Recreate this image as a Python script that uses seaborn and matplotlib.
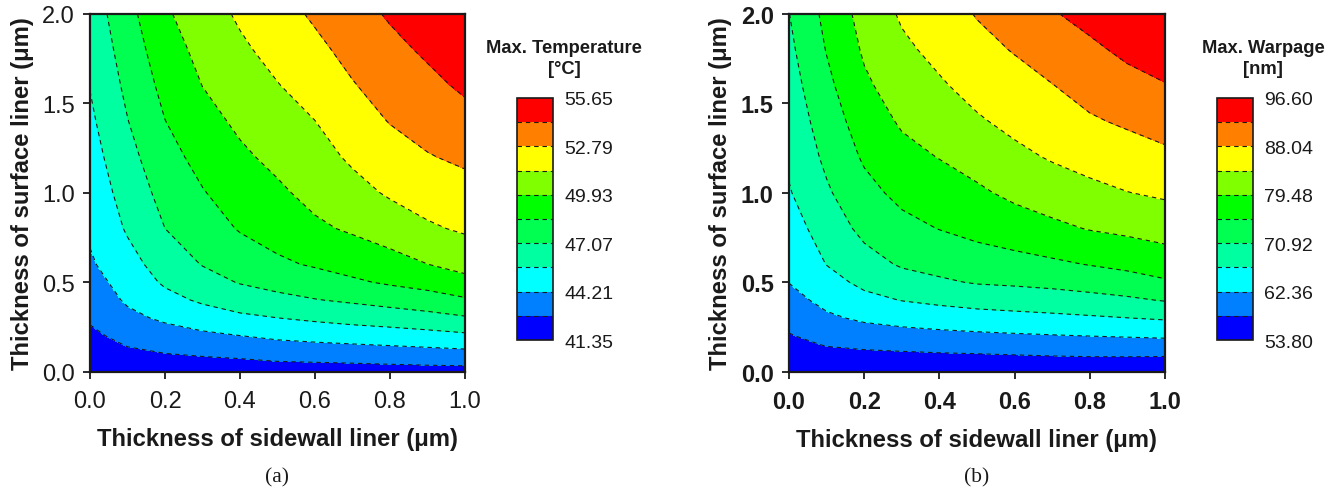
import numpy as np
import matplotlib
matplotlib.use('Agg')
import matplotlib.pyplot as plt
import seaborn as sns
from matplotlib.colors import ListedColormap, BoundaryNorm

# grid of the two design parameters (µm)
sidewall = [0.0, 0.1, 0.2, 0.3, 0.4, 0.5, 0.6, 0.7, 0.8, 0.9, 1.0]
surface = [0.0, 0.05, 0.1, 0.15, 0.2, 0.3, 0.4, 0.5, 0.6, 0.8, 1.0, 1.2, 1.4, 1.6, 1.8, 2.0]

# Max. temperature [°C], one row per sidewall thickness, along surface thickness
max_temp = [
    [41.35, 41.64, 41.92, 42.21, 42.49, 42.96, 43.31, 43.66, 44.02, 44.44, 44.75, 45.07, 45.38, 45.69, 45.97, 46.25],
    [41.90, 42.21, 42.53, 42.85, 43.19, 43.87, 44.40, 44.78, 45.16, 45.79, 46.21, 46.62, 47.03, 47.38, 47.72, 48.06],
    [42.00, 42.38, 42.76, 43.18, 43.61, 44.44, 45.21, 45.83, 46.24, 47.07, 47.54, 48.01, 48.48, 48.90, 49.31, 49.73],
    [42.05, 42.47, 42.91, 43.42, 43.93, 44.94, 45.84, 46.53, 47.13, 47.78, 48.42, 48.94, 49.45, 49.95, 50.33, 50.72],
    [42.10, 42.55, 43.05, 43.62, 44.19, 45.37, 46.32, 47.15, 47.67, 48.61, 49.15, 49.69, 50.19, 50.66, 51.13, 51.56],
    [42.15, 42.69, 43.28, 43.88, 44.47, 45.63, 46.69, 47.54, 48.28, 49.05, 49.70, 50.27, 50.79, 51.31, 51.80, 52.28],
    [42.20, 42.75, 43.38, 44.02, 44.65, 45.89, 47.01, 47.88, 48.64, 49.69, 50.33, 50.84, 51.35, 51.92, 52.48, 52.99],
    [42.22, 42.81, 43.47, 44.14, 44.83, 46.13, 47.27, 48.30, 49.00, 50.12, 50.90, 51.58, 52.15, 52.71, 53.20, 53.69],
    [42.25, 42.89, 43.58, 44.27, 44.98, 46.33, 47.58, 48.68, 49.42, 50.59, 51.53, 52.20, 52.85, 53.35, 53.85, 54.38],
    [42.28, 42.97, 43.68, 44.41, 45.16, 46.58, 47.90, 49.00, 49.92, 51.17, 51.98, 52.71, 53.30, 53.87, 54.44, 55.01],
    [42.30, 43.03, 43.79, 44.58, 45.37, 46.92, 48.32, 49.53, 50.37, 51.55, 52.30, 53.04, 53.77, 54.45, 55.05, 55.65],
]

# Max. warpage [nm]
max_warp = [
    [53.80, 54.80, 55.81, 56.81, 57.82, 59.42, 60.97, 62.44, 63.22, 64.77, 66.33, 67.35, 68.24, 69.12, 70.01, 70.85],
    [54.30, 55.65, 57.00, 58.31, 59.43, 61.68, 63.51, 65.16, 66.73, 68.55, 70.37, 71.78, 73.00, 74.22, 75.39, 76.32],
    [54.50, 55.96, 57.41, 58.86, 60.29, 63.05, 65.53, 67.60, 69.35, 71.99, 73.94, 75.74, 77.26, 78.79, 80.02, 81.01],
    [54.60, 56.13, 57.65, 59.22, 60.81, 63.86, 66.76, 69.24, 71.35, 74.00, 76.27, 78.22, 80.00, 81.49, 82.98, 84.28],
    [54.70, 56.29, 57.89, 59.55, 61.22, 64.47, 67.54, 70.36, 72.19, 75.31, 77.48, 79.62, 81.46, 83.30, 84.84, 86.29],
    [54.80, 56.44, 58.07, 59.82, 61.56, 64.98, 68.25, 71.22, 73.21, 76.41, 78.82, 81.09, 83.31, 85.12, 86.81, 88.28],
    [54.85, 56.57, 58.29, 60.08, 61.86, 65.38, 68.65, 71.55, 73.80, 77.45, 80.38, 82.80, 84.80, 86.54, 88.30, 90.15],
    [54.90, 56.71, 58.52, 60.33, 62.14, 65.74, 69.07, 71.98, 74.50, 78.59, 81.59, 84.14, 86.04, 87.94, 89.98, 92.02],
    [54.95, 56.81, 58.68, 60.54, 62.40, 66.15, 69.62, 72.63, 75.36, 79.69, 82.70, 85.26, 87.58, 89.60, 91.54, 93.59],
    [55.00, 56.83, 58.71, 60.67, 62.64, 66.60, 70.26, 73.48, 76.21, 80.39, 83.68, 86.18, 88.63, 91.01, 93.18, 95.09],
    [55.00, 56.77, 58.64, 60.78, 62.91, 67.09, 71.17, 74.70, 77.23, 81.21, 84.39, 87.18, 89.71, 92.14, 94.38, 96.60],
]

temp_levels = [41.35, 42.78, 44.21, 45.64, 47.07, 48.50, 49.93, 51.36, 52.79, 54.22, 55.65]
warp_levels = [53.80, 58.08, 62.36, 66.64, 70.92, 75.20, 79.48, 83.76, 88.04, 92.32, 96.60]

band_colors = ['#0000FF', '#0080FF', '#00FFFF', '#00FFA0', '#00FF50',
               '#00FF00', '#80FF00', '#FFFF00', '#FF8000', '#FF0000']

sns.set_theme(style='ticks')
plt.rcParams['font.family'] = ['Liberation Sans', 'DejaVu Sans']
plt.rcParams['lines.dashed_pattern'] = [4.0, 3.5]

cmap = ListedColormap(sns.color_palette(band_colors))

fig = plt.figure(figsize=(13.4, 4.89), dpi=100)


def draw_panel(ax_rect, cax_rect, values, levels, bold_ticks, cb_title, title_x, caption):
    ax = fig.add_axes(ax_rect)
    cax = fig.add_axes(cax_rect)
    X, Y = np.meshgrid(sidewall, surface)
    Z = np.array(values).T
    norm = BoundaryNorm(levels, cmap.N)

    cf = ax.contourf(X, Y, Z, levels=levels, cmap=cmap, norm=norm)
    ax.contour(X, Y, Z, levels=levels[1:-1], colors='k', linewidths=0.8,
               linestyles='dashed')

    ax.set_xlim(0, 1)
    ax.set_ylim(0, 2)
    ax.set_xticks([0.0, 0.2, 0.4, 0.6, 0.8, 1.0])
    ax.set_yticks([0.0, 0.5, 1.0, 1.5, 2.0])
    ax.set_yticks([0.25, 0.75, 1.25, 1.75], minor=True)
    ax.xaxis.set_major_formatter(plt.FormatStrFormatter('%.1f'))
    ax.yaxis.set_major_formatter(plt.FormatStrFormatter('%.1f'))
    weight = 'bold' if bold_ticks else 'normal'
    for lab in ax.get_xticklabels() + ax.get_yticklabels():
        lab.set_fontweight(weight)
    ax.tick_params(axis='both', which='major', labelsize=17, length=5, width=1.3,
                   direction='out', color='k', labelcolor='k', pad=6)
    ax.tick_params(axis='x', which='major', pad=8)
    ax.tick_params(axis='y', which='minor', length=3, width=1.0, direction='in')
    for sp in ax.spines.values():
        sp.set_linewidth(1.6)
        sp.set_color('k')
    ax.set_xlabel('Thickness of sidewall liner (μm)', fontsize=17.2, fontweight='bold',
                  labelpad=11, color='k')
    ax.set_ylabel('Thickness of surface liner (μm)', fontsize=17.2, fontweight='bold',
                  labelpad=6, color='k')

    # discrete colour bar with dashed band borders
    cbar = fig.colorbar(cf, cax=cax, ticks=levels[::2])
    cbar.ax.minorticks_off()
    cbar.ax.yaxis.set_major_formatter(plt.FormatStrFormatter('%.2f'))
    cbar.ax.tick_params(which='both', length=0, labelsize=14, pad=8, labelcolor='k')
    for lvl in levels[1:-1]:
        cbar.ax.axhline(lvl, color='k', lw=0.8, ls='--')
    cbar.outline.set_linewidth(1.2)
    cbar.outline.set_edgecolor('k')

    fig.text(title_x, 1 - 59 / 489, cb_title, ha='center', va='center',
             fontsize=13.2, fontweight='bold', linespacing=1.3, color='k')
    fig.text(ax_rect[0] + ax_rect[2] / 2, 1 - 478 / 489, caption, ha='center', va='center',
             fontsize=15.5, family=['Liberation Serif', 'DejaVu Serif'], color='k')
    return ax


draw_panel([90 / 1340, 116.3 / 489, 375 / 1340, 358 / 489],
           [517 / 1340, 148 / 489, 36 / 1340, 242 / 489],
           max_temp, temp_levels, False, 'Max. Temperature\n[°C]', 564 / 1340, '(a)')
draw_panel([789 / 1340, 116.3 / 489, 376 / 1340, 358 / 489],
           [1217 / 1340, 148 / 489, 36 / 1340, 242 / 489],
           max_warp, warp_levels, True, 'Max. Warpage\n[nm]', 1263 / 1340, '(b)')

fig.savefig('out.png', dpi=100)
